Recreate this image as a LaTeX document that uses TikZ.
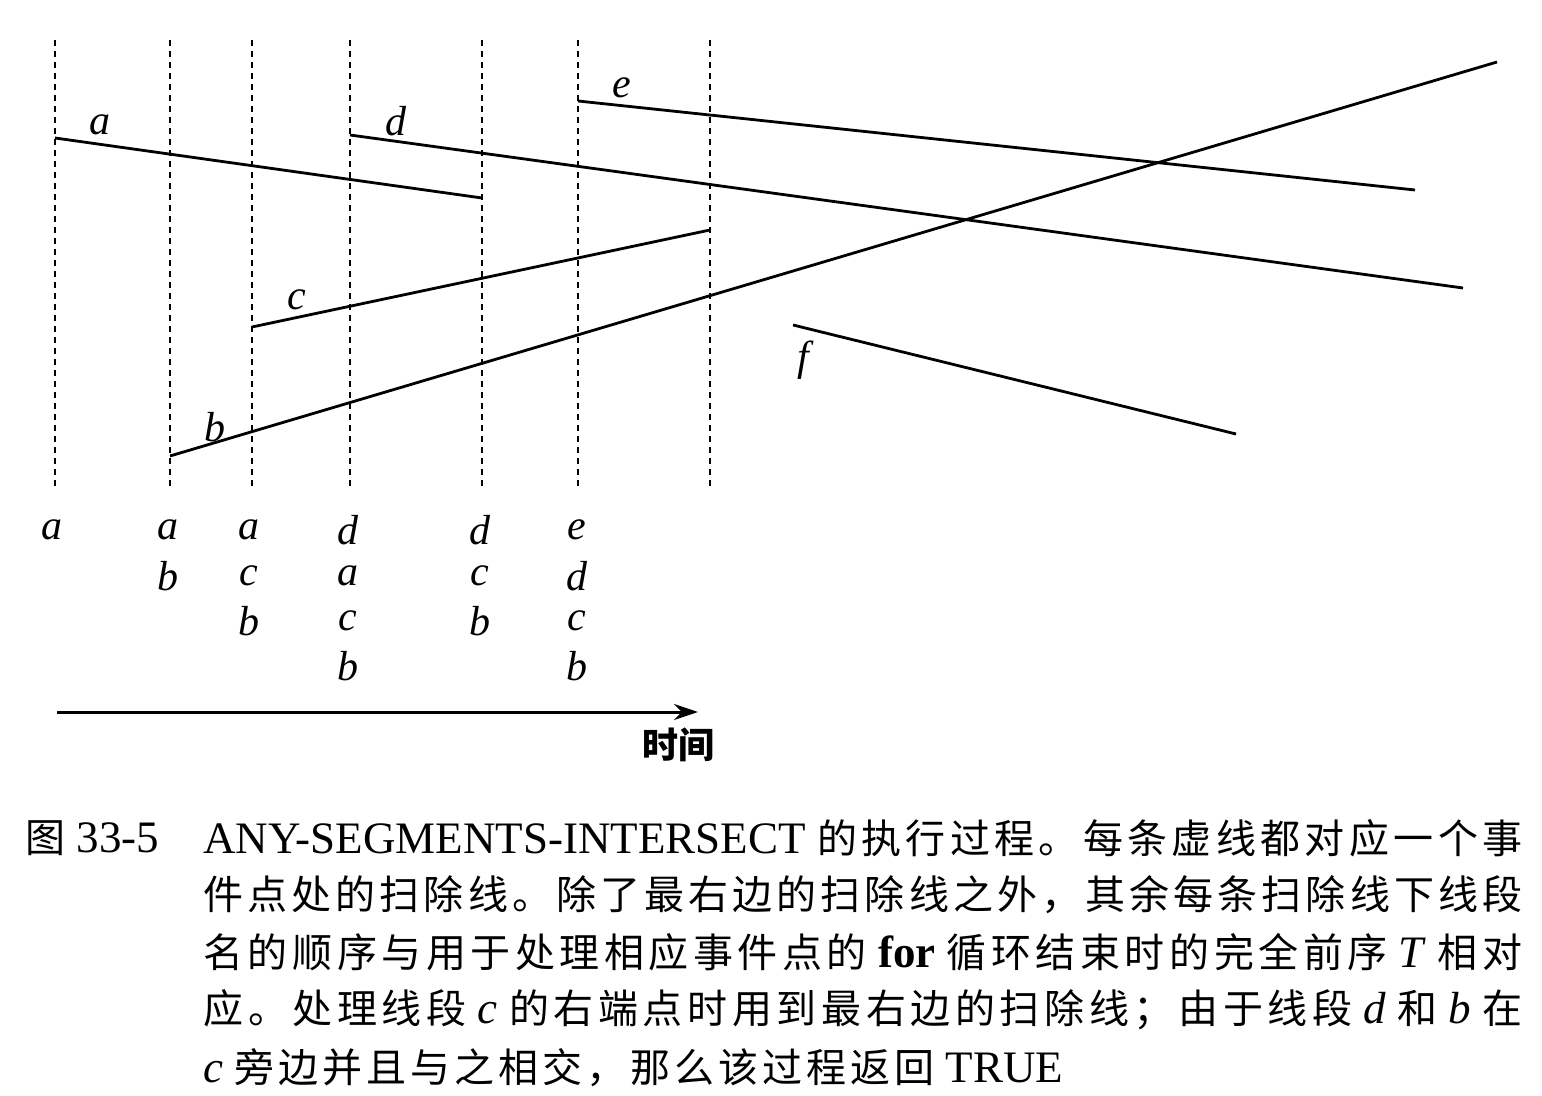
\documentclass[tikz,border=0pt]{standalone}
\usepackage{fontspec}
\setmainfont{Liberation Serif}
\newfontfamily\cjk{Noto Sans CJK SC}
\usetikzlibrary{arrows.meta}
\newcommand\capsize{\fontsize{22.5}{22.5}\selectfont}
\makeatletter
\newcommand\zh[1]{{\cjk\fontsize{20}{20}\selectfont\@tfor\zzchar:=#1\do{\zzchar\hskip 0pt plus 1fil}\unskip}}
\makeatother
\begin{document}
\begin{tikzpicture}[x=0.5pt,y=-0.5pt,
  sweep/.style={line width=0.9pt, dash pattern=on 3.2pt off 2.3pt},
  seg/.style={line width=1.4pt},
  lbl/.style={font=\fontsize{21}{21}\selectfont\itshape, inner sep=0pt},
  capline/.style={anchor=west, inner sep=0pt, font=\capsize}]
\useasboundingbox (0,0) rectangle (1542,1096);
% sweep lines
\foreach \i/\x in {1/55,2/170,3/252,4/350,5/482,6/578,7/710}{
  \coordinate (s\i t) at (\x,40);
  \coordinate (s\i b) at (\x,490);
  \draw[sweep] (s\i t) -- (s\i b);
}
% segments
\coordinate (a1) at (55,138);  \coordinate (a2) at (482,198);
\coordinate (b1) at (170,456); \coordinate (b2) at (1497,62);
\coordinate (c1) at (252,327); \coordinate (c2) at (710,230);
\coordinate (d1) at (350,135); \coordinate (d2) at (1463,288);
\coordinate (e1) at (578,101); \coordinate (e2) at (1415,190);
\coordinate (f1) at (793,325); \coordinate (f2) at (1236,434);
\foreach \s in {a,b,c,d,e,f}{\draw[seg] (\s1) -- (\s2);}
% segment labels
\node[lbl] (la) at (100,125) {a};
\node[lbl] (ld) at (396,121) {d};
\node[lbl] (le) at (622,88) {e};
\node[lbl] (lc) at (297,300) {c};
\node[lbl] (lb) at (215,427) {b};
\node[lbl] (lf) at (803,360) {f};
% orders
\node[lbl] (o11) at (52,530) {a};
\node[lbl] (o21) at (168,530) {a};
\node[lbl] (o22) at (168,576) {b};
\node[lbl] (o31) at (249,530) {a};
\node[lbl] (o32) at (249,576) {c};
\node[lbl] (o33) at (249,621) {b};
\node[lbl] (o41) at (348,530) {d};
\node[lbl] (o42) at (348,576) {a};
\node[lbl] (o43) at (348,621) {c};
\node[lbl] (o44) at (348,666) {b};
\node[lbl] (o51) at (480,530) {d};
\node[lbl] (o52) at (480,576) {c};
\node[lbl] (o53) at (480,621) {b};
\node[lbl] (o61) at (577,530) {e};
\node[lbl] (o62) at (577,576) {d};
\node[lbl] (o63) at (577,621) {c};
\node[lbl] (o64) at (577,666) {b};
% time arrow
\coordinate (t0) at (57,712);
\coordinate (t1) at (698,712);
\draw[line width=1.5pt, -{Stealth[length=12pt,width=8pt]}] (t0) -- (t1);
\node[inner sep=0pt, font=\cjk\bfseries\fontsize{18}{18}\selectfont] (time) at (678,745) {时间};
% caption
\node[capline] (fig) at (25,838) {\zh{图} 33-5};
\node[capline] (l1) at (203,838) {\makebox[659.5pt][s]{ANY-SEGMENTS-INTERSECT \zh{的执行过程。每条虚线都对应一个事}}};
\node[capline] (l2) at (203,895) {\makebox[659.5pt][s]{\zh{件点处的扫除线。除了最右边的扫除线之外，其余每条扫除线下线段}}};
\node[capline] (l3) at (203,952) {\makebox[659.5pt][s]{\zh{名的顺序与用于处理相应事件点的} \textbf{for} \zh{循环结束时的完全前序} \textit{T} \zh{相对}}};
\node[capline] (l4) at (203,1010) {\makebox[659.5pt][s]{\zh{应。处理线段} \textit{c} \zh{的右端点时用到最右边的扫除线；由于线段} \textit{d} \zh{和} \textit{b} \zh{在}}};
\node[capline] (l5) at (203,1068) {\makebox[430pt][s]{\textit{c} \zh{旁边并且与之相交，那么该过程返回} TRUE}};
\end{tikzpicture}
\end{document}
